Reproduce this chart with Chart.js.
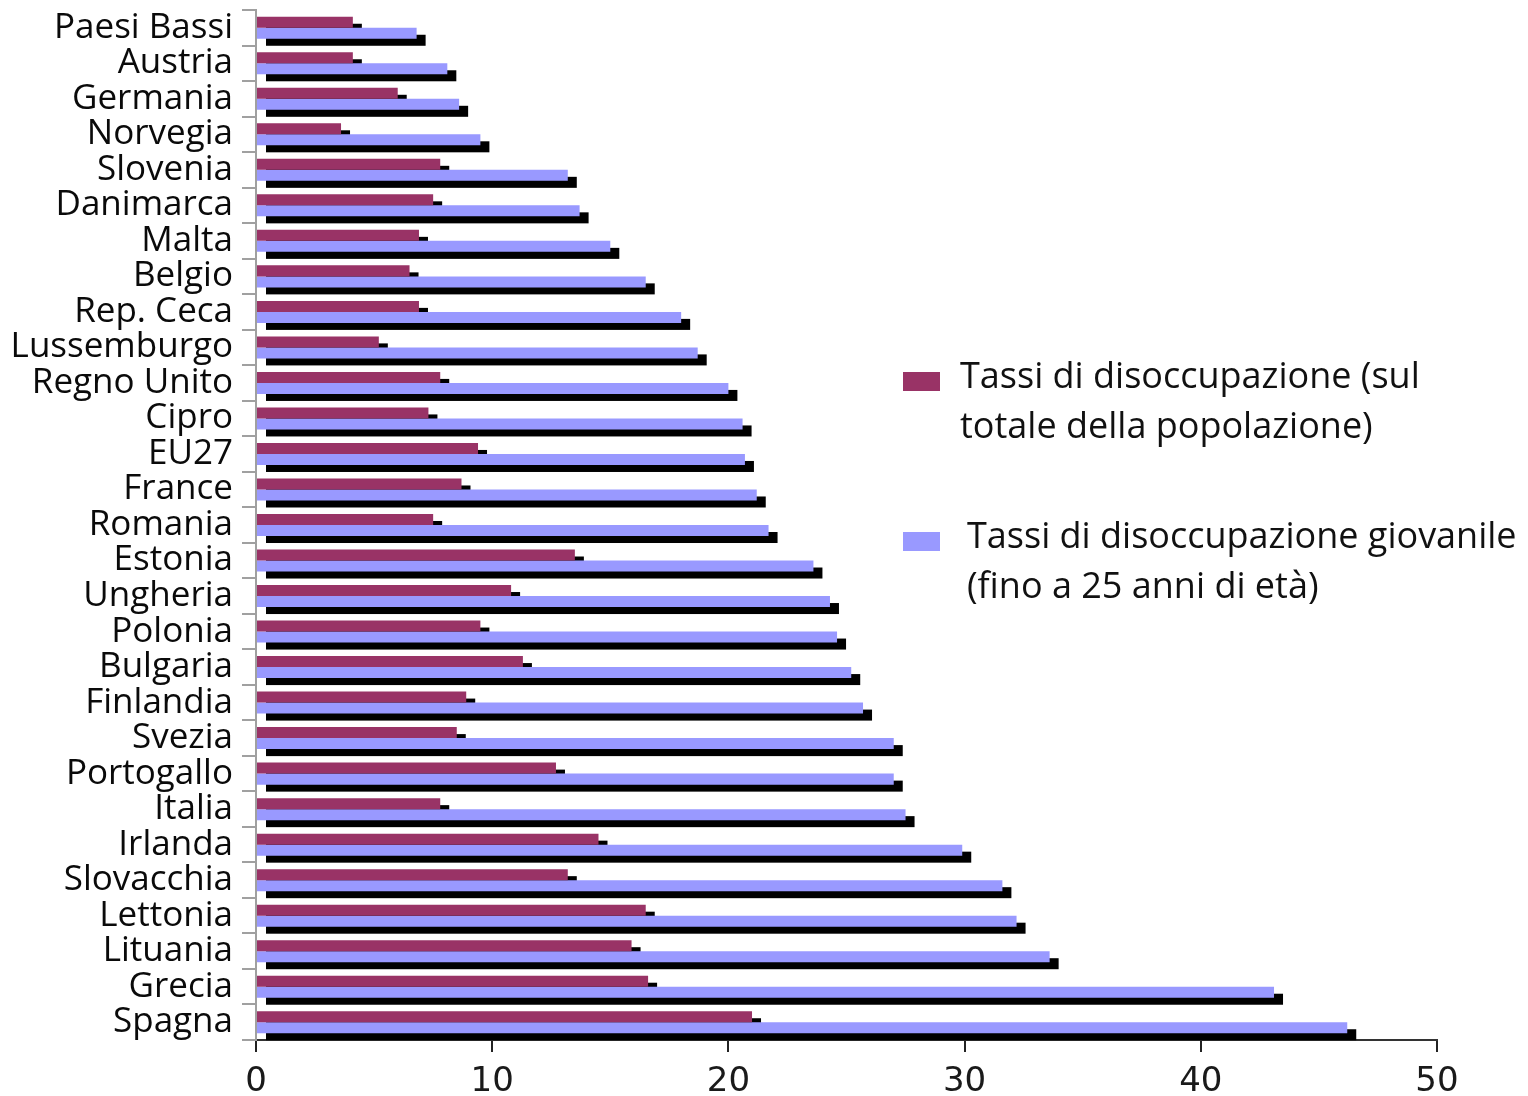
<!DOCTYPE html>
<html>
<head>
<meta charset="utf-8">
<script src="https://cdn.jsdelivr.net/npm/chart.js@4.4.0/dist/chart.umd.min.js"></script>
<style>
  html, body { margin: 0; padding: 0; background: #fff; }
  #wrap { width: 1528px; height: 1096px; position: relative; }
</style>
</head>
<body>
<div id="wrap"><canvas id="chart"></canvas></div>
<script>
// dati (%)
const countries = [
  'Paesi Bassi', 'Austria', 'Germania', 'Norvegia', 'Slovenia', 'Danimarca', 'Malta',
  'Belgio', 'Rep. Ceca', 'Lussemburgo', 'Regno Unito', 'Cipro', 'EU27', 'France',
  'Romania', 'Estonia', 'Ungheria', 'Polonia', 'Bulgaria', 'Finlandia', 'Svezia',
  'Portogallo', 'Italia', 'Irlanda', 'Slovacchia', 'Lettonia', 'Lituania', 'Grecia', 'Spagna'
];
const totalRate = [
  4.1, 4.1, 6.0, 3.6, 7.8, 7.5, 6.9,
  6.5, 6.9, 5.2, 7.8, 7.3, 9.4, 8.7,
  7.5, 13.5, 10.8, 9.5, 11.3, 8.9, 8.5,
  12.7, 7.8, 14.5, 13.2, 16.5, 15.9, 16.6, 21.0
];
const youthRate = [
  6.8, 8.1, 8.6, 9.5, 13.2, 13.7, 15.0,
  16.5, 18.0, 18.7, 20.0, 20.6, 20.7, 21.2,
  21.7, 23.6, 24.3, 24.6, 25.2, 25.7, 27.0,
  27.0, 27.5, 29.9, 31.6, 32.2, 33.6, 43.1, 46.2
];
const xMin = 0, xMax = 50, xStep = 10;
const legendLines = [
  ['Tassi di disoccupazione (sul', 'totale della popolazione)'],
  ['Tassi di disoccupazione giovanile', '(fino a 25 anni di età)']
];

const MAROON = '#993366';
const LILAC = '#9999FF';

// ombra nera spostata sotto ogni barra (effetto Excel)
const barShadow = {
  id: 'barShadow',
  beforeDatasetsDraw(chart) {
    const ctx = chart.ctx;
    ctx.save();
    ctx.fillStyle = '#000';
    chart.data.datasets.forEach((ds, i) => {
      chart.getDatasetMeta(i).data.forEach(bar => {
        const { x, y, base, height } = bar.getProps(['x', 'y', 'base', 'height'], true);
        ctx.fillRect(Math.min(x, base) + 9, y - height / 2 + 7, Math.abs(x - base), height);
      });
    });
    ctx.restore();
  }
};

// legenda a destra, testo su due righe
const sideLegend = {
  id: 'sideLegend',
  afterDraw(chart) {
    const ctx = chart.ctx;
    const spots = [
      { box: 903, text: 960, y: 378 },
      { box: 903, text: 967, y: 538 }
    ];
    ctx.save();
    ctx.font = '36px "Open Sans"';
    ctx.textBaseline = 'middle';
    ctx.textAlign = 'left';
    chart.data.datasets.forEach((ds, i) => {
      const s = spots[i];
      ctx.fillStyle = ds.backgroundColor;
      ctx.fillRect(s.box, s.y - 6, 37, 19);
      ctx.fillStyle = '#111';
      legendLines[i].forEach((line, k) => ctx.fillText(line, s.text, s.y + k * 50));
    });
    ctx.restore();
  }
};

new Chart(document.getElementById('chart'), {
  type: 'bar',
  data: {
    labels: countries,
    datasets: [
      { label: legendLines[0].join(' '), data: totalRate, backgroundColor: MAROON },
      { label: legendLines[1].join(' '), data: youthRate, backgroundColor: LILAC }
    ]
  },
  options: {
    indexAxis: 'y',
    responsive: true,
    maintainAspectRatio: false,
    animation: false,
    categoryPercentage: 0.62,
    barPercentage: 1.0,
    layout: { padding: { top: 10, right: 91, left: 0, bottom: 0 } },
    plugins: {
      legend: { display: false },
      tooltip: { enabled: false }
    },
    scales: {
      x: {
        min: xMin,
        max: xMax,
        ticks: { stepSize: xStep, color: '#1a1a1a', padding: 10, font: { family: 'DejaVu Sans', size: 34 } },
        grid: { drawOnChartArea: false, drawTicks: true, tickLength: 12, color: '#222', lineWidth: 2 },
        border: { color: '#333', width: 2 },
        afterFit(scale) { scale.height = 56; }
      },
      y: {
        ticks: { color: '#0a0a0a', padding: 9, font: { family: 'Open Sans', size: 35 }, autoSkip: false },
        grid: { drawOnChartArea: false, drawTicks: true, tickLength: 14, color: '#a0a0a0', lineWidth: 2 },
        border: { color: '#a0a0a0', width: 2 },
        afterFit(scale) {
          scale.width = 256;
          scale.paddingTop = 0;
          scale.paddingBottom = 0;
        }
      }
    }
  },
  plugins: [barShadow, sideLegend]
});
</script>
</body>
</html>
